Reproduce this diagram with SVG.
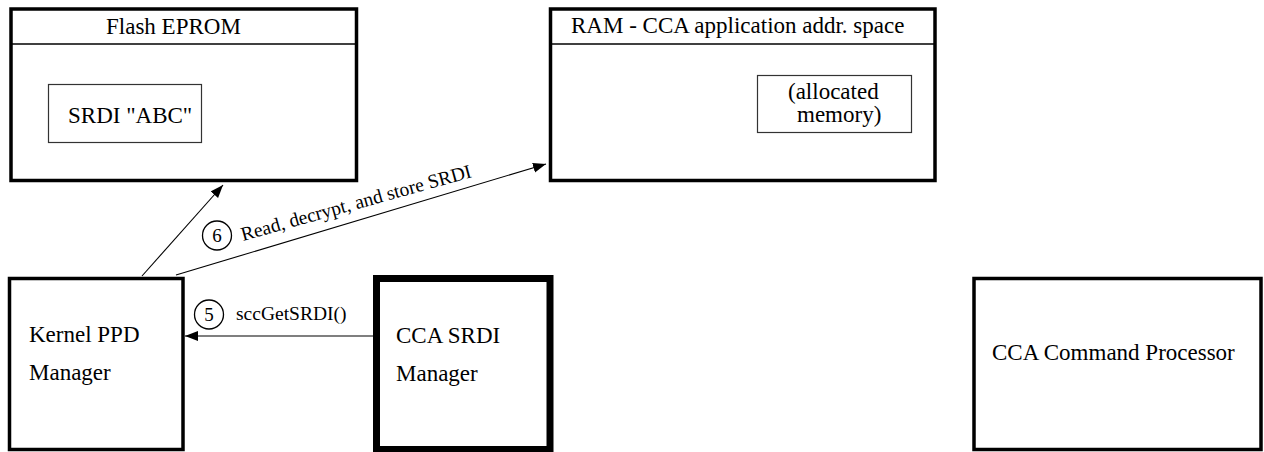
<svg xmlns="http://www.w3.org/2000/svg" width="1264" height="452" viewBox="0 0 1264 452">
<defs>
<style>
text{font-family:"Liberation Serif","Times New Roman",serif;fill:#000}
.t{font-size:23px}
.l{font-size:19.5px}
.n{font-size:19px;text-anchor:middle}
.box{fill:#fff;stroke:#000;stroke-width:3.5}
.thick{fill:#fff;stroke:#000;stroke-width:7}
.inner{fill:#fff;stroke:#333;stroke-width:1.2}
.hdr{stroke:#000;stroke-width:1.5}
.conn{stroke:#000;stroke-width:1.1;fill:none}
.badge{fill:#fff;stroke:#000;stroke-width:1.3}
</style>
<marker id="ah" markerUnits="userSpaceOnUse" markerWidth="14" markerHeight="12" refX="13" refY="5" orient="auto">
<path d="M0,0 L13,5 L0,10 Z" fill="#000"/>
</marker>
</defs>
<rect width="1264" height="452" fill="#fff"/>

<g id="flash-eprom">
<rect class="box" x="11" y="9" width="345.5" height="171.5"/>
<line class="hdr" x1="11" y1="44" x2="356.5" y2="44"/>
<text class="t" x="106" y="34">Flash EPROM</text>
<g id="srdi-abc">
<rect class="inner" x="48.5" y="84.5" width="153" height="58"/>
<text class="t" x="68" y="123">SRDI "ABC"</text>
</g>
</g>

<g id="ram">
<rect class="box" x="550.5" y="9" width="384.5" height="171.5"/>
<line class="hdr" x1="550.5" y1="44" x2="935" y2="44"/>
<text class="t" x="571" y="33">RAM - CCA application addr. space</text>
<g id="allocated-memory">
<rect class="inner" x="757.5" y="75.5" width="154" height="57"/>
<text class="t" x="788" y="99">(allocated</text>
<text class="t" x="797" y="122">memory)</text>
</g>
</g>

<g id="kernel-ppd-manager">
<rect class="box" x="9.5" y="278.5" width="173.5" height="171"/>
<text class="t" x="29" y="342">Kernel PPD</text>
<text class="t" x="29" y="380">Manager</text>
</g>

<g id="cca-srdi-manager">
<rect class="thick" x="376.5" y="278.5" width="173.5" height="171"/>
<text class="t" x="396" y="343">CCA SRDI</text>
<text class="t" x="396" y="381">Manager</text>
</g>

<g id="cca-command-processor">
<rect class="box" x="974" y="278.5" width="287" height="171"/>
<text class="t" x="992" y="360">CCA Command Processor</text>
</g>

<g id="connectors">
<line class="conn" x1="142" y1="276" x2="223" y2="185" marker-end="url(#ah)"/>
<line class="conn" x1="176" y1="275" x2="546" y2="164" marker-end="url(#ah)"/>
<line class="conn" x1="373" y1="336" x2="185" y2="336" marker-end="url(#ah)"/>
<circle class="badge" cx="217" cy="235.5" r="14.5"/>
<text class="n" x="217" y="241.5">6</text>
<text class="l" transform="translate(243,241) rotate(-15.6)" x="0" y="0">Read, decrypt, and store SRDI</text>
<circle class="badge" cx="209" cy="314.5" r="14.5"/>
<text class="n" x="209" y="320.5">5</text>
<text class="l" x="236" y="320">sccGetSRDI()</text>
</g>
</svg>
